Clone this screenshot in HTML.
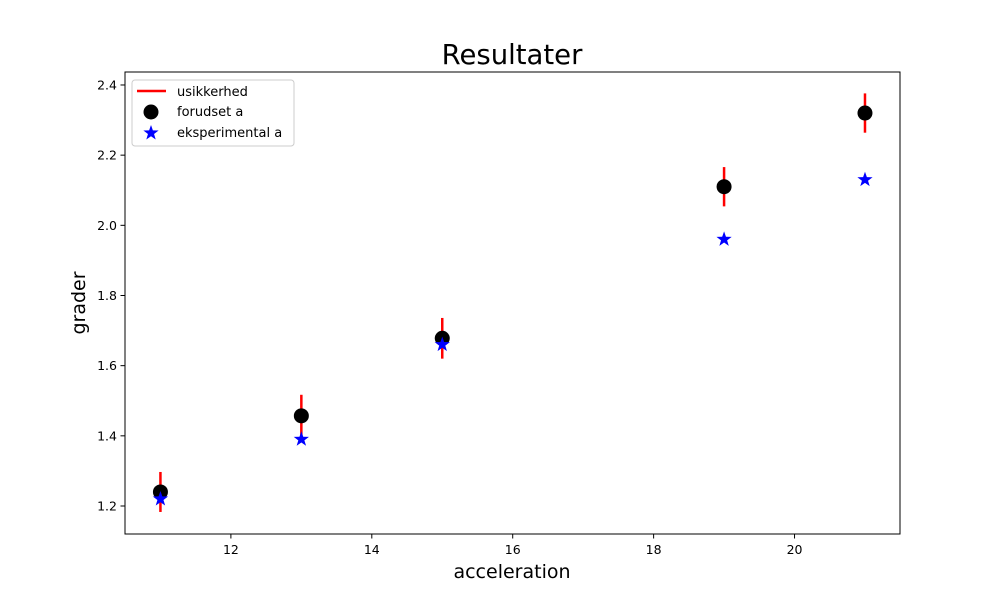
<!DOCTYPE html>
<html><head><meta charset="utf-8"><style>body{margin:0;background:#fff}svg{font-family:"DejaVu Sans","Liberation Sans",sans-serif}</style></head>
<body>
<svg id="c" width="1000" height="600" xmlns="http://www.w3.org/2000/svg">
<rect width="1000" height="600" fill="#fff"/>
<text x="512" y="64" font-size="27.5" text-anchor="middle">Resultater</text>
<g id="ticks"></g>
<g id="marks"></g>
<rect x="125" y="72" width="775" height="462" fill="none" stroke="#000" stroke-width="1"/>
<text x="512" y="578" font-size="19" text-anchor="middle">acceleration</text>
<text transform="translate(85,303) rotate(-90)" font-size="19" text-anchor="middle">grader</text>
<g>
<rect x="132" y="80" width="162" height="66" rx="3" fill="#fff" stroke="#ccc"/>
<line x1="137" y1="91" x2="166" y2="91" stroke="red" stroke-width="2.5"/>
<text x="177" y="96" font-size="13">usikkerhed</text>
<circle cx="151" cy="112" r="7.5" fill="#000"/>
<text x="177" y="116" font-size="13">forudset a</text>
<polygon id="lstar" fill="blue"/>
<text x="177" y="137" font-size="13">eksperimental a</text>
</g>
</svg>
<script>
const xs=[11,13,15,19,21];
const predicted=[1.24,1.457,1.678,2.11,2.32];
const errors=[0.057,0.06,0.058,0.056,0.056];
const experimental=[1.22,1.39,1.66,1.96,2.13];
const xTicks=[12,14,16,18,20];
const yTicks=[1.2,1.4,1.6,1.8,2.0,2.2,2.4];
const NS="http://www.w3.org/2000/svg";
const X=v=>125+(v-10.497)/11*775;
const Y=v=>534-(v-1.1202)/(2.437-1.1202)*462;
function mk(t,a,p){const e=document.createElementNS(NS,t);for(const k in a)e.setAttribute(k,a[k]);p.appendChild(e);return e;}
function star(cx,cy,R){const r=R*0.4;let p=[];for(let i=0;i<10;i++){const a=-Math.PI/2+i*Math.PI/5,rr=i%2?r:R;p.push((cx+rr*Math.cos(a)).toFixed(2)+","+(cy+rr*Math.sin(a)).toFixed(2));}return p.join(" ");}
document.getElementById('lstar').setAttribute('points',star(151,133,8));
const tg=document.getElementById('ticks'),mg=document.getElementById('marks');
xTicks.forEach(v=>{const l=mk('line',{x1:X(v),x2:X(v),y1:534,y2:538.5,stroke:'#000'},tg);


const t=mk('text',{x:X(v),y:554,'font-size':12.5,'text-anchor':'middle'},tg);t.textContent=v;

});
yTicks.forEach(v=>{const l=mk('line',{x1:120.5,x2:125,y1:Y(v),y2:Y(v),stroke:'#000'},tg);


const t=mk('text',{x:117,y:Y(v)+4.5,'font-size':12.5,'text-anchor':'end'},tg);t.textContent=v.toFixed(1);

});
xs.forEach((x,i)=>{
const e=mk('line',{x1:X(x),x2:X(x),y1:Y(predicted[i]-errors[i]),y2:Y(predicted[i]+errors[i]),stroke:'red','stroke-width':2.5},mg);


const c=mk('circle',{cx:X(x),cy:Y(predicted[i]),r:7.5,fill:'#000'},mg);


const s=mk('polygon',{points:star(X(x),Y(experimental[i]),8),fill:'blue'},mg);


});
</script>
</body></html>
